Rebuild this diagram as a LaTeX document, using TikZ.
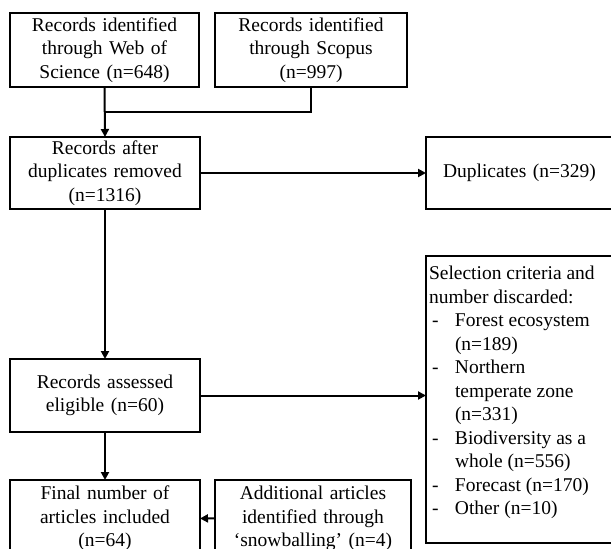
\documentclass[tikz,border=0pt]{standalone}
\usepackage{fontspec}
\setmainfont{Liberation Serif}
\usetikzlibrary{arrows.meta}

\tikzset{
  recbox/.style={draw, line width=2pt, anchor=north west, outer sep=0pt,
    inner xsep=2pt, inner ysep=2pt, align=center,
    font=\fontsize{19.5}{23.5}\selectfont},
  link/.style={line width=2pt},
  flow/.style={line width=2pt, -{Triangle[length=8pt,width=8pt]}}
}

\begin{document}
\begin{tikzpicture}[x=1pt,y=-1pt]

\useasboundingbox (0,0) rectangle (611,549);
\clip (0,0) rectangle (611,549);

%database searches
\node [recbox, text width=185pt, minimum height=74pt] (wos) at (10,13)
  {Records identified\\ through Web of\\ Science (n=648)};
\node [recbox, text width=188pt, minimum height=74pt] (scopus) at (215,13)
  {Records identified\\ through Scopus\\ (n=997)};

%duplicates
\node [recbox, text width=186pt, minimum height=72pt] (dedup) at (10,137)
  {Records after\\ duplicates removed\\ (n=1316)};
\node [recbox, align=left, inner xsep=17pt, text width=170pt, minimum height=72pt] (dup) at (426,137)
  {Duplicates (n=329)};

%screening
\node [recbox, text width=186pt, minimum height=73pt] (elig) at (10,359)
  {Records assessed\\ eligible (n=60)};
\node [recbox, inner xsep=3pt, inner ysep=10pt] (crit) at (426,256)
  {\parbox[t][267pt][t]{200pt}{\raggedright
    Selection criteria and\\
    number discarded:\\
    \makebox[26pt][l]{\hspace{3pt}-}Forest ecosystem\\
    \hspace*{26pt}(n=189)\\
    \makebox[26pt][l]{\hspace{3pt}-}Northern\\
    \hspace*{26pt}temperate zone\\
    \hspace*{26pt}(n=331)\\
    \makebox[26pt][l]{\hspace{3pt}-}Biodiversity as a\\
    \hspace*{26pt}whole (n=556)\\
    \makebox[26pt][l]{\hspace{3pt}-}Forecast (n=170)\\
    \makebox[26pt][l]{\hspace{3pt}-}Other (n=10)}};

%included
\node [recbox, text width=186pt, inner ysep=6pt] (final) at (10,480)
  {Final number of\\ articles included\\ (n=64)};
\node [recbox, text width=192pt, inner ysep=6pt] (snow) at (215,480)
  {Additional articles\\ identified through\\ `snowballing' (n=4)};

%connectors
\coordinate (merge) at ([yshift=-25pt]wos.south);
\draw [link] (scopus.south) |- (merge);
\draw [flow] (wos.south) -- (dedup.north);
\draw [flow] (dedup.east) -- (dup.west);
\draw [flow] (dedup.south) -- (elig.north);
\draw [flow] (elig.east) -- (elig.east -| crit.west);
\draw [flow] (elig.south) -- (final.north);
\draw [flow] (snow.west) -- (final.east);

\end{tikzpicture}
\end{document}
